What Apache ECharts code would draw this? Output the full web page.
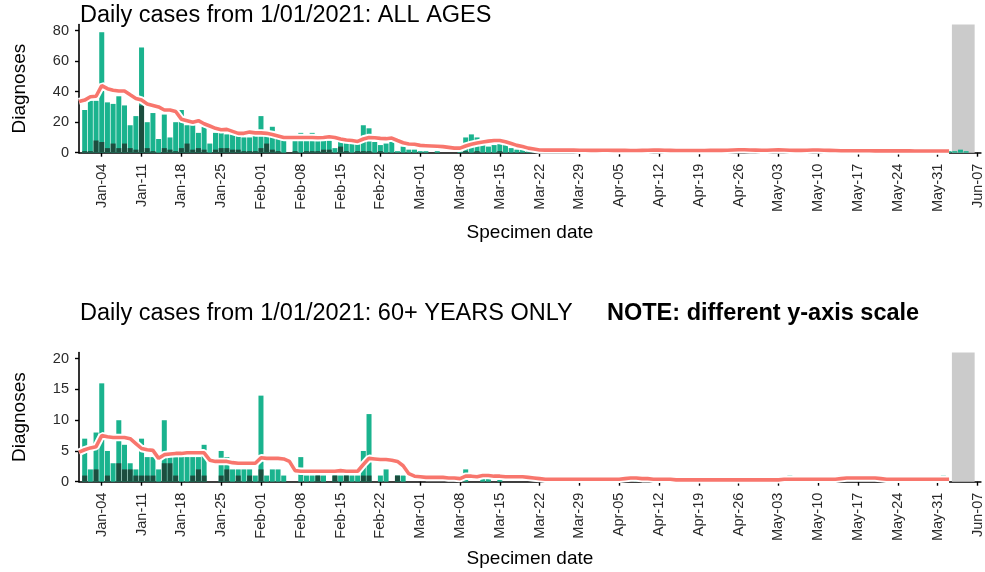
<!DOCTYPE html>
<html><head><meta charset="utf-8">
<script src="https://cdn.jsdelivr.net/npm/echarts@6/dist/echarts.min.js"></script>
<style>html,body{margin:0;padding:0;background:#fff}#c{width:985px;height:572px}</style>
</head><body><div id="c"></div>
<script>
// ---- data (bars start 2021-01-01, lines start 2020-12-31) ----
const barStart = [2021, 0, 1];
const lineStart = [2020, 11, 31];
const tickLabels = ['Jan-04','Jan-11','Jan-18','Jan-25','Feb-01','Feb-08','Feb-15','Feb-22','Mar-01','Mar-08','Mar-15','Mar-22','Mar-29','Apr-05','Apr-12','Apr-19','Apr-26','May-03','May-10','May-17','May-24','May-31','Jun-07'];
const shadedDates = ['Jun-03', 'Jun-06'];
const yTicksAll = [0, 20, 40, 60, 80];
const yTicks60 = [0, 5, 10, 15, 20];
const yMaxAll = 84;
const yMax60 = 21;

// teal part of each daily bar (stacked above the dark part)
const allAgesTeal = [
 27,33,26,72,30,26,34,25,15,22, 38,17,25,9,22,8,19,25,12,16, 10,15,6,11,10,9,10,9,9,9, 10,
 21,5,15,8,8,0,8,13,7,12, 7,6,6,3,4,6,7,6,17,15, 7,4,6,7,1,4,2,2,
 1,1,0,1,0,0,0,1,9,12, 9,9,4,5,5,5,3,2,2,1, 1,1,2,1,2,2,1,3,1,2, 1,
 1,2,1,1,2,1,1,2,1,1, 2,1,1,1,2,1,1,1,2,1, 1,2,1,1,2,2,1,2,1,2,
 1,2,1,2,1,1,2,1,1,1, 1,1,2,1,1,1,1,1,2,1, 1,1,1,1,1,1,2,1,1,1, 1,
 1,1,1,2,1
];
const allAgesDark = [
 1,1,8,7,3,6,3,6,3,2, 31,3,1,0,3,2,1,3,6,2, 3,2,0,2,3,3,2,2,1,1, 1,
 3,6,2,1,0,0,1,0,1,1, 1,2,2,0,4,1,0,1,1,1, 0,1,0,0,0,0,0,0,
 0,0,0,0,0,0,0,0,1,0, 1,0,0,0,1,0,0,0,0,0, 0,0,0,0,0,0,0,0,0,0, 0,
 0,0,0,0,0,0,0,0,0,0, 0,0,0,0,0,0,0,0,0,0, 0,0,0,0,0,0,0,0,0,0,
 0,0,0,0,0,0,0,0,0,0, 0,0,0,0,0,0,0,0,0,0, 0,0,0,0,0,0,0,0,0,0, 0,
 0,0,0,0,0
];
const allAgesAvg = [
 33.5,
 34.5,36.7,37,44,42,41,40.5,40.5,38,35.6, 34.5,32,31,30,28,28,27,22,21,20, 21,19,17.5,16,15,15.3,14,12.7,12.7,13.5, 13,
 13,12.7,12,11,10,10,10,10,10,10, 9.8,10,10.5,10,9,8.3,8,7.4,9,10, 9.8,9.4,9.2,9.6,8,6.5,5.7,5.5,
 4.8,4.6,4.4,4.2,4,3.5,3,3,4.4,5.5, 6.3,7,7.6,8,8,7.2,6,4.8,4,3, 2.4,1.8,1.7,1.7,1.7,1.7,1.7,1.7,1.6,1.6, 1.5,
 1.5,1.6,1.6,1.5,1.5,1.5,1.4,1.4,1.5,1.6, 1.7,1.8,1.6,1.5,1.4,1.4,1.4,1.4,1.4,1.4, 1.5,1.5,1.5,1.6,1.8,1.9,1.9,1.8,1.7,1.6,
 1.6,1.8,1.9,1.8,1.6,1.5,1.5,1.6,1.8,1.8, 1.6,1.5,1.4,1.3,1.3,1.3,1.3,1.3,1.3,1.2, 1.2,1.2,1.2,1.2,1.2,1.2,1.1,1.1,1.1,1.1, 1.1,
 1.1,1.1
];

const over60Teal = [
 6,2,6,16,4,3,7,4,1,1, 6,3,3,2,7,1,3,4,4,3, 2,5,0,0,4,2,2,1,2,1, 1,
 12,1,2,2,1,0,0,4,1,1, 0,1,0,0,1,0,1,1,4,10, 0,1,2,0,0,1,0,0,
 0,0,0,0,0,0,0,0,2,0, 0,1,1,0,1,0,0,0,0,0, 0,0,0,0,0,0,0,0,0,0, 0,
 0,0,0,0,0,0,0,1,0,0, 0,0,0,0,0,0,0,0,0,0, 0,0,0,0,0,0,0,0,0,0,
 0,0,0,0,1,0,0,0,0,0, 0,0,0,1,0,0,0,0,0,0, 0,0,0,0,0,0,0,0,0,0, 0,
 1,0,0,0,0
];
const over60Dark = [
 1,0,2,0,1,0,3,2,2,1, 1,1,1,0,3,3,1,0,0,1, 2,1,0,0,1,2,0,1,0,1, 0,
 2,0,0,0,0,0,0,0,0,0, 1,0,0,1,0,1,0,0,1,1, 0,0,0,0,1,0,0,0,
 0,0,0,0,0,0,0,0,0,0, 0,0,0,0,0,0,0,0,0,0, 0,0,0,0,0,0,0,0,0,0, 0,
 0,0,0,0,0,0,0,0,0,0, 0,0,0,0,0,0,0,0,0,0, 0,0,0,0,0,0,0,0,0,0,
 0,0,0,0,0,0,0,0,0,0, 0,0,0,0,0,0,0,0,0,0, 0,0,0,0,0,0,0,0,0,0, 0,
 0,0,0,0,0
];
const over60Avg = [
 4.8,
 5.2,5.5,5.7,7.5,7.3,7.2,7.2,7.2,7.0,6.2, 5.4,5.2,5.1,3.8,4.4,4.5,4.6,4.6,4.7,4.7, 4.7,4.7,3.5,3.3,3.3,3.3,3.1,3.0,3.0,3.0, 3.0,
 3.9,3.8,3.8,3.8,3.7,3.3,1.8,1.7,1.7,1.7, 1.7,1.7,1.7,1.7,1.8,1.7,1.7,1.7,2.8,3.8, 3.7,3.6,3.6,3.5,3.3,2.6,1.3,0.9,
 0.8,0.7,0.7,0.7,0.7,0.6,0.6,0.5,0.9,0.9, 0.8,1.0,1.0,0.9,0.9,0.8,0.8,0.8,0.8,0.7, 0.6,0.5,0.4,0.4,0.4,0.4,0.4,0.4,0.4,0.4, 0.4,
 0.4,0.4,0.4,0.4,0.4,0.5,0.6,0.6,0.5,0.5, 0.4,0.4,0.4,0.4,0.3,0.3,0.3,0.3,0.3,0.3, 0.3,0.3,0.3,0.3,0.3,0.3,0.3,0.3,0.3,0.3,
 0.3,0.3,0.3,0.4,0.4,0.4,0.4,0.4,0.4,0.4, 0.4,0.4,0.4,0.5,0.6,0.6,0.6,0.6,0.6,0.6, 0.5,0.4,0.4,0.4,0.4,0.4,0.4,0.4,0.4,0.4, 0.4,
 0.4,0.4
];

// ---- helpers ----
const MONTHS = {Jan:0,Feb:1,Mar:2,Apr:3,May:4,Jun:5};
const DAY = 86400000;
const origin = Date.UTC(2021, 0, 1);
const dayOf = (y, m, d) => Math.round((Date.UTC(y, m, d) - origin) / DAY);
const labelDay = s => dayOf(2021, MONTHS[s.slice(0,3)], +s.slice(4));
const tickDays = tickLabels.map(labelDay);
const labelByDay = {}; tickLabels.forEach((t, i) => labelByDay[tickDays[i]] = t);
const barOffset = dayOf(...barStart);
const lineOffset = dayOf(...lineStart);
const pairs = (arr, off) => arr.map((v, i) => [i + off, v]);
const shadeFrom = labelDay(shadedDates[0]) - 0.5, shadeTo = labelDay(shadedDates[1]) + 0.5;

const TEAL = '#1ab38e', DARK = '#1c4e3f', RED = '#f8766d', GREY = '#cbcbcb';
const FONT = 'Liberation Sans, Arial, sans-serif';

function xAxis(g, gap) {
  return {
    type: 'value', gridIndex: g, min: -1, max: 157.6,
    splitLine: {show: false},
    axisLine: {show: true, onZero: false, lineStyle: {color: '#000', width: 1.6}},
    axisTick: {show: true, length: 4, customValues: tickDays, lineStyle: {color: '#000', width: 1.4}},
    axisLabel: {customValues: tickDays, rotate: 90, margin: 11, fontSize: 14.5, color: '#2a2a2a',
                fontFamily: FONT, formatter: v => labelByDay[v] || ''},
    name: 'Specimen date', nameLocation: 'middle', nameGap: gap,
    nameTextStyle: {fontSize: 19, color: '#000', fontFamily: FONT}
  };
}
function yAxis(g, max, ticks) {
  return {
    type: 'value', gridIndex: g, min: 0, max: max,
    splitLine: {show: false},
    axisLine: {show: true, onZero: false, lineStyle: {color: '#000', width: 1.6}},
    axisTick: {show: true, length: 4, customValues: ticks, lineStyle: {color: '#000', width: 1.4}},
    axisLabel: {customValues: ticks, margin: 10, fontSize: 14.5, color: '#2a2a2a', fontFamily: FONT},
    name: 'Diagnoses', nameLocation: 'middle', nameGap: 50, nameRotate: 90,
    nameTextStyle: {fontSize: 19, color: '#000', fontFamily: FONT}
  };
}
function panelSeries(g, teal, dark, avg, ymax) {
  // total bar height = dark part + teal part; dark part is drawn over the bottom of it
  const total = teal.map((v, i) => v + dark[i]);
  return [
    {type: 'line', xAxisIndex: g, yAxisIndex: g, data: [], silent: true, z: 1,
     markArea: {silent: true, itemStyle: {color: GREY, opacity: 1},
                data: [[{xAxis: shadeFrom, yAxis: 0}, {xAxis: shadeTo, yAxis: ymax}]]}},
    {type: 'bar', xAxisIndex: g, yAxisIndex: g, data: pairs(total, barOffset),
     itemStyle: {color: TEAL}, barCategoryGap: '12%', barGap: '-100%', z: 2},
    {type: 'bar', xAxisIndex: g, yAxisIndex: g, data: pairs(dark, barOffset),
     itemStyle: {color: DARK}, barCategoryGap: '12%', barGap: '-100%', z: 2},
    {type: 'line', xAxisIndex: g, yAxisIndex: g, data: pairs(avg, lineOffset), symbol: 'none',
     lineStyle: {color: '#fff', width: 7.5}, z: 3, silent: true},
    {type: 'line', xAxisIndex: g, yAxisIndex: g, data: pairs(avg, lineOffset), symbol: 'none',
     lineStyle: {color: RED, width: 3.6}, z: 4, silent: true}
  ];
}

const chart = echarts.init(document.getElementById('c'), null, {renderer: 'canvas'});
chart.setOption({
  animation: false,
  backgroundColor: '#fff',
  textStyle: {fontFamily: FONT},
  title: [
    {text: 'Daily cases from 1/01/2021: ALL AGES', left: 75, top: -1,
     textStyle: {fontSize: 23.5, fontWeight: 'normal', color: '#000', fontFamily: FONT}},
    {text: 'Daily cases from 1/01/2021: 60+ YEARS ONLY', left: 75, top: 297,
     textStyle: {fontSize: 23.5, fontWeight: 'normal', color: '#000', fontFamily: FONT}},
    {text: 'NOTE: different y-axis scale', left: 602, top: 297,
     textStyle: {fontSize: 23.5, fontWeight: 'bold', color: '#000', fontFamily: FONT}}
  ],
  grid: [
    {left: 79, right: 0, top: 24.6, height: 128.1},
    {left: 79, right: 0, top: 352.6, height: 129.1}
  ],
  xAxis: [xAxis(0, 71), xAxis(1, 68)],
  yAxis: [yAxis(0, yMaxAll, yTicksAll), yAxis(1, yMax60, yTicks60)],
  series: [
    ...panelSeries(0, allAgesTeal, allAgesDark, allAgesAvg, yMaxAll),
    ...panelSeries(1, over60Teal, over60Dark, over60Avg, yMax60)
  ]
});
</script></body></html>
